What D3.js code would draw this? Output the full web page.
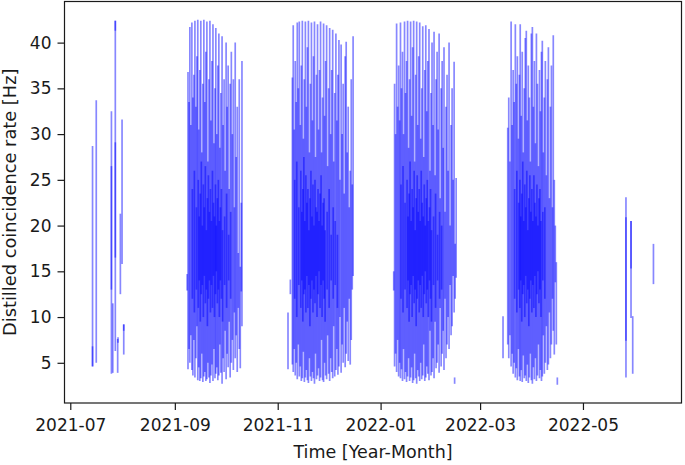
<!DOCTYPE html>
<html><head><meta charset="utf-8">
<script src="https://cdn.jsdelivr.net/npm/d3@7"></script>
<style>
body{margin:0;background:#fff}
text{font-family:"DejaVu Sans",sans-serif;fill:#1a1a1a}
</style>
</head><body>
<svg id="chart" width="685" height="465"></svg>
<script>
// Each pass: [days since 2021-07-01, min rate (Hz), max rate (Hz)]
const passesJul2021 = [
  [13.2,4.6,28.7],[13.2,4.6,6.8],[15.4,5.0,33.7],
  [24.4,3.8,32.5],[24.4,13.0,26.5],[25.2,3.9,11.5],
  [26.7,6.3,42.4],[26.7,16.5,29.1],[26.7,41.3,42.4],
  [28.1,3.9,7.6],[28.3,7.2,7.8],[29.7,12.5,21.3],[30.7,15.8,31.6],
  [31.7,5.9,9.2],[31.7,8.5,9.2]
];
const passesSep2021 = [
  [69.3,12.9,14.7],[69.8,4.3,36.8],[70.4,6.5,33.5],[70.9,5.0,41.7],[71.5,8.0,31.0],
  [72.1,4.2,42.2],[72.7,3.6,34.0],[73.3,7.5,36.5],[73.9,3.4,42.4],[74.5,5.5,33.0],
  [75.1,9.0,38.5],[75.6,3.1,42.5],[76.2,4.5,30.5],[76.8,3.0,37.0],[77.4,3.3,42.4],
  [78.0,6.0,28.0],[78.6,2.9,35.5],[79.2,3.5,42.5],[79.8,4.0,33.5],[80.4,3.0,39.0],
  [81.0,3.2,42.3],[81.6,5.0,27.0],[82.2,3.4,36.0],[82.8,2.8,42.4],[83.4,3.6,31.5],
  [84.0,4.8,38.0],[84.6,3.0,42.0],[85.2,6.5,29.0],[85.8,3.3,35.0],[86.3,3.8,41.6],
  [86.9,4.5,30.0],[87.5,3.1,37.5],[88.1,3.6,41.0],[88.7,7.0,28.5],[89.3,3.9,34.5],
  [90.0,2.7,40.7],[90.6,5.5,31.0],[91.2,4.0,36.0],[91.8,8.5,26.0],[92.4,3.2,40.0],
  [93.0,6.0,33.0],[93.6,4.5,37.5],[94.2,9.5,24.0],[94.8,3.4,35.5],[95.5,5.0,39.0],
  [96.1,7.5,30.0],[96.7,4.2,36.0],[97.3,10.5,22.0],[97.8,5.5,40.0],[98.4,8.0,27.5],
  [99.0,4.0,33.0],[99.6,11.0,17.0],[100.2,6.5,36.0],[100.8,4.4,15.5],[101.4,12.8,22.5],
  [101.8,9.0,38.0],
  [72.4,12.0,24.0],[73.6,10.5,26.0],[74.8,13.0,22.0],[75.9,11.0,25.0],[76.5,14.0,21.0],
  [77.1,9.5,23.5],[77.7,12.5,27.0],[78.3,13.5,20.0],[78.9,10.0,24.5],[79.5,14.5,22.0],
  [80.1,11.5,26.5],[80.7,13.0,19.5],[81.3,9.0,23.0],[81.9,12.0,25.5],[82.5,14.0,21.5],
  [83.1,10.5,24.0],[83.7,13.5,20.5],[84.3,11.0,26.0],[84.9,14.5,22.5],[85.5,10.0,21.0],
  [86.1,12.5,24.5],[86.6,15.0,20.0],[87.2,11.5,23.0],[87.8,13.0,25.0],[88.4,10.0,20.5],
  [89.0,14.0,22.0],[89.6,12.0,24.0],[90.3,9.5,19.5],[91.5,13.5,21.0],[92.7,11.0,23.5],
  [93.9,14.0,19.0],[95.1,12.0,21.5]
];
const passesNov2021 = [
  [129.1,4.3,10.5],[130.5,12.5,14.1],[131.7,4.8,36.2],[132.2,4.0,41.9],[132.8,6.5,30.5],
  [133.4,3.6,38.0],[134.0,5.0,33.5],[134.6,3.2,42.2],[135.2,7.0,35.0],[135.8,3.5,42.3],
  [136.4,4.6,31.0],[137.0,3.0,37.5],[137.6,3.3,42.4],[138.2,6.2,29.5],[138.8,2.9,36.0],
  [139.4,3.4,42.3],[140.0,4.2,33.0],[140.6,3.1,39.5],[141.2,2.8,42.4],[141.8,5.5,28.0],
  [142.4,3.5,35.5],[143.0,3.0,42.2],[143.6,4.0,31.5],[144.2,3.3,38.5],[144.8,2.7,42.3],
  [145.4,6.0,27.5],[146.0,3.2,36.5],[146.6,3.6,42.0],[147.2,4.4,30.5],[147.8,3.0,37.0],
  [148.4,3.4,42.3],[149.0,7.5,28.0],[149.6,3.1,34.0],[150.2,2.9,42.1],[150.8,5.0,32.0],
  [151.4,3.6,38.0],[152.0,3.2,41.9],[152.6,8.0,26.5],[153.2,3.8,35.0],[153.8,3.0,41.6],
  [154.4,5.5,30.0],[155.0,4.0,37.0],[155.6,3.3,41.4],[156.2,9.0,27.0],[156.8,3.5,34.5],
  [157.5,4.2,41.0],[158.1,6.5,31.5],[158.7,3.7,36.5],[159.3,4.6,40.3],[159.9,10.0,25.0],
  [160.6,3.9,39.8],[161.2,7.0,30.0],[161.8,5.0,35.5],[162.4,11.0,23.5],[163.0,4.5,38.5],
  [163.6,6.0,40.1],[164.2,9.5,28.0],[164.8,5.2,33.0],[165.4,12.0,22.0],[166.0,4.8,26.0],
  [166.6,7.5,36.0],[167.2,13.0,24.5],[167.7,14.5,40.7],
  [133.1,12.0,25.0],[134.3,10.0,27.0],[135.5,13.5,22.0],[136.7,11.0,26.0],[137.3,14.0,21.5],
  [137.9,9.5,24.0],[138.5,12.5,27.5],[139.1,13.0,20.5],[139.7,10.5,25.5],[140.3,14.5,22.5],
  [140.9,11.0,24.0],[141.5,13.5,19.5],[142.1,9.0,23.0],[142.7,12.0,26.0],[143.3,14.0,21.0],
  [143.9,10.5,24.5],[144.5,13.0,20.0],[145.1,11.5,25.0],[145.7,14.5,22.0],[146.3,10.0,21.5],
  [146.9,12.5,24.0],[147.5,15.0,20.5],[148.1,11.0,23.5],[148.7,13.5,25.5],[149.3,10.0,20.0],
  [149.9,14.0,22.5],[150.5,12.0,23.0],[151.1,9.5,19.5],[152.3,13.0,21.5],[153.5,11.0,24.0],
  [154.7,14.0,19.0],[155.9,12.0,22.0],[157.1,13.5,20.5],[158.4,11.0,19.0]
];
const passesJan2022 = [
  [191.8,12.9,15.0],[192.3,4.6,35.5],[192.9,6.0,30.0],[193.5,4.0,42.1],[194.1,7.5,33.0],
  [194.7,3.5,37.5],[195.3,5.0,31.5],[195.8,3.3,42.2],[196.4,4.3,35.0],[197.0,3.0,39.0],
  [197.6,6.5,30.0],[198.2,3.2,42.3],[198.8,4.0,34.5],[199.4,2.9,38.0],[200.0,3.5,42.4],
  [200.6,5.5,28.5],[201.2,3.0,36.0],[201.8,3.4,42.3],[202.4,4.5,32.0],[203.0,2.8,39.5],
  [203.6,3.1,42.4],[204.2,6.0,27.0],[204.8,3.3,36.5],[205.4,2.7,42.3],[206.0,4.2,31.0],
  [206.6,3.5,38.5],[207.2,3.0,42.2],[207.8,5.0,29.5],[208.4,3.2,35.0],[209.0,3.6,41.8],
  [209.6,7.0,27.5],[210.2,3.0,37.0],[210.8,3.4,41.9],[211.4,4.6,32.5],[212.0,3.8,38.0],
  [212.7,3.1,41.5],[213.3,8.5,26.0],[213.9,3.6,34.5],[214.5,4.0,40.0],[215.1,5.5,31.0],
  [215.7,3.3,41.2],[216.3,9.5,25.5],[216.9,4.4,36.0],[217.5,5.0,39.0],[218.1,7.0,30.5],
  [218.7,3.9,41.0],[219.3,11.0,23.0],[219.9,4.6,35.0],[220.5,6.0,38.0],[221.1,8.5,28.5],
  [221.6,4.2,39.5],[222.2,12.0,21.5],[222.8,5.5,33.0],[223.4,7.0,36.5],[224.0,10.0,26.0],
  [224.6,6.5,40.0],[225.2,13.5,20.0],[225.8,8.0,31.0],[226.4,9.0,35.0],[227.0,14.5,25.0],
  [227.6,10.5,37.9],[228.2,12.0,18.0],[228.8,14.3,25.2],[227.9,2.7,3.4],
  [196.1,12.0,24.5],[197.3,10.5,26.5],[198.5,13.0,22.5],[199.7,11.0,25.0],[200.3,14.0,21.0],
  [200.9,9.5,23.5],[201.5,12.5,27.0],[202.1,13.5,20.5],[202.7,10.0,24.0],[203.3,14.5,22.0],
  [203.9,11.5,26.0],[204.5,13.0,19.5],[205.1,9.0,23.0],[205.7,12.0,25.5],[206.3,14.0,21.5],
  [206.9,10.5,24.0],[207.5,13.5,20.5],[208.1,11.0,26.0],[208.7,14.5,22.5],[209.3,10.0,21.0],
  [209.9,12.5,24.5],[210.5,15.0,20.0],[211.1,11.5,23.0],[211.7,13.0,25.0],[212.3,10.0,20.5],
  [213.0,14.0,22.0],[213.6,12.0,24.0],[214.2,9.5,19.5],[215.4,13.5,21.0],[216.6,11.0,23.5],
  [217.8,14.0,19.0],[219.0,12.0,21.5],[220.2,13.0,20.0]
];
const passesMar2022 = [
  [256.6,5.5,10.1],[259.4,7.0,30.7],[260.0,5.5,34.0],[260.7,8.0,27.0],[261.4,4.6,42.3],
  [262.0,6.0,31.0],[262.6,3.8,37.0],[263.2,5.0,33.5],[263.9,3.4,42.0],[264.5,4.4,35.5],
  [265.1,3.1,38.5],[265.7,6.5,29.5],[266.3,3.5,36.5],[266.8,3.0,42.0],[267.4,4.2,32.0],
  [268.0,2.9,39.0],[268.6,5.8,28.0],[269.2,3.3,35.0],[269.8,3.6,40.5],[270.4,3.0,41.3],
  [271.0,4.8,31.5],[271.6,2.8,37.5],[272.2,3.4,34.0],[272.8,6.0,27.0],[273.4,3.1,41.0],
  [274.0,2.7,41.7],[274.6,4.5,33.0],[275.2,3.2,38.0],[275.8,5.5,29.0],[276.4,3.0,41.0],
  [277.0,3.6,35.5],[277.6,7.0,26.5],[278.2,3.3,37.0],[278.8,4.2,32.5],[279.4,3.0,39.0],
  [279.9,3.5,40.2],[280.5,8.0,28.0],[281.1,3.8,34.0],[281.7,5.0,38.0],[282.3,9.0,25.5],
  [282.9,4.2,36.0],[283.5,4.8,39.5],[284.1,10.5,23.0],[284.7,5.5,33.0],[285.3,7.0,37.5],
  [285.9,12.0,22.0],[286.4,8.5,40.8],[287.0,5.9,25.0],[287.6,13.8,20.0],[288.2,7.0,16.0],
  [288.8,2.6,3.4],
  [263.5,12.0,24.0],[264.8,10.5,26.0],[265.9,13.0,22.5],[266.6,11.0,25.0],[267.1,14.0,21.0],
  [267.7,9.5,23.5],[268.3,12.5,27.0],[268.9,13.5,20.5],[269.5,10.0,24.5],[270.1,14.5,22.0],
  [270.7,11.5,26.0],[271.3,13.0,19.5],[271.9,9.0,23.0],[272.5,12.0,25.5],[273.1,14.0,21.5],
  [273.7,10.5,24.0],[274.3,13.5,20.5],[274.9,11.0,25.5],[275.5,14.5,22.5],[276.1,10.0,21.0],
  [276.7,12.5,24.5],[277.3,15.0,20.0],[277.9,11.5,23.0],[278.5,13.0,24.0],[279.1,10.0,20.5],
  [280.2,14.0,21.5],[281.4,12.0,22.0]
];
const passesMay2022 = [
  [329.5,3.4,23.1],[329.5,7.4,20.9],[332.5,15.3,20.5],[332.5,9.9,20.5],
  [333.5,3.8,10.1],[345.8,13.6,18.0]
];
const yTicks = [5,10,15,20,25,30,35,40];
const xTickLabels = ["2021-07","2021-09","2021-11","2022-01","2022-03","2022-05"];
const xLabel = "Time [Year-Month]";
const yLabel = "Distilled coincidence rate [Hz]";

const epoch = Date.UTC(2021,6,1);
const passes = [].concat(passesJul2021, passesSep2021, passesNov2021, passesJan2022, passesMar2022, passesMay2022)
  .map(p => ({t: new Date(epoch + p[0]*864e5), lo: p[1], hi: p[2]}));

const L = 64.5, R = 681.5, T = 1.5, B = 403;
const svg = d3.select("#chart");

const tExt = d3.extent(passes, d => +d.t);
const tPad = (tExt[1]-tExt[0])*0.05;
const x = d3.scaleUtc().domain([new Date(tExt[0]-tPad), new Date(tExt[1]+tPad)]).range([L, R]);
const yMin = d3.min(passes, d => d.lo), yMax = d3.max(passes, d => d.hi);
const yPad = (yMax-yMin)*0.05;
const y = d3.scaleLinear().domain([yMin-yPad, yMax+yPad]).range([B, T]);

svg.append("g").selectAll("line").data(passes).join("line")
  .attr("x1", d => x(d.t)).attr("x2", d => x(d.t))
  .attr("y1", d => y(d.lo)).attr("y2", d => y(d.hi))
  .attr("stroke", "#0000ff").attr("stroke-opacity", 0.47).attr("stroke-width", 1.7);

const parseM = d3.utcParse("%Y-%m");
const xAxis = d3.axisBottom(x).tickValues(xTickLabels.map(parseM)).tickFormat(d3.utcFormat("%Y-%m")).tickSize(7).tickPadding(9);
const gx = svg.append("g").attr("transform", `translate(0,${B})`).call(xAxis);
const yAxis = d3.axisLeft(y).tickValues(yTicks).tickSize(7).tickPadding(6);
const gy = svg.append("g").attr("transform", `translate(${L},0)`).call(yAxis);
[gx, gy].forEach(g => {
  g.select(".domain").remove();
  g.selectAll(".tick line").attr("stroke", "#1a1a1a").attr("stroke-width", 1.2);
  g.selectAll(".tick text").attr("font-family", "DejaVu Sans").attr("font-size", 17).attr("fill", "#1a1a1a");
});

svg.append("rect").attr("x", L).attr("y", T).attr("width", R-L).attr("height", B-T)
  .attr("fill", "none").attr("stroke", "#1a1a1a").attr("stroke-width", 1.2);

svg.append("text").attr("x", (L+R)/2).attr("y", 458).attr("text-anchor", "middle")
  .attr("font-size", 17.5).text(xLabel);
svg.append("text").attr("transform", `translate(16,${(T+B)/2}) rotate(-90)`).attr("text-anchor", "middle")
  .attr("font-size", 17.8).text(yLabel);
</script>
</body></html>
